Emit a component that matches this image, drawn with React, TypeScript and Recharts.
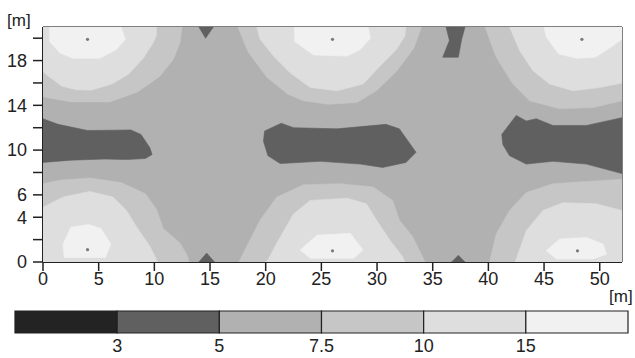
import React from 'react';
import { ScatterChart, Scatter, XAxis, YAxis, ReferenceLine, BarChart, Bar } from 'recharts';

// ---- illuminance classes (lx) ----
const levelLabels = ['3', '5', '7.5', '10', '15'];
const levelColors = ['#232323', '#606060', '#b1b1b1', '#c6c6c6', '#dedede', '#f1f1f1'];

// ---- axes ----
const xTicks = [0, 5, 10, 15, 20, 25, 30, 35, 40, 45, 50];
const yTicks = [0, 2, 4, 6, 8, 10, 12, 14, 16, 18, 20];
const yLabelled = [0, 4, 6, 10, 14, 18];

// ---- contour region outlines [x m, y m] ----
const room: [number, number][] = [[0, 0], [52, 0], [52, 21], [0, 21]];

const topLeft75: [number, number][] = [[0, 21], [12.5, 21], [12.3, 19.6], [11.7, 18.1], [10.5, 16.6], [8.5, 15.2], [6.0, 14.3], [2.6, 14.3], [0.3, 14.7], [0, 14.8]];
const topLeft10: [number, number][] = [[0, 21], [10.2, 21], [10.2, 20.3], [9.9, 19.6], [9.0, 18.2], [7.7, 16.8], [6.2, 15.9], [4.3, 15.35], [3.0, 15.4], [1.7, 15.7], [0.5, 16.6], [0, 17.0]];
const topLeft15: [number, number][] = [[0.6, 21], [7.0, 21], [7.4, 19.9], [6.6, 19.0], [5.1, 18.2], [2.7, 18.2], [1.5, 18.7], [0.6, 19.7]];

const botLeft75: [number, number][] = [[0, 0], [0, 7.0], [1.5, 7.3], [4.2, 7.5], [7.0, 7.1], [9.2, 6.1], [10.2, 4.7], [10.8, 3.0], [12.3, 1.7], [13.0, 0.5], [13.1, 0]];
const botLeft10: [number, number][] = [[0, 0], [0, 4.9], [1.8, 5.8], [4.2, 6.3], [6.3, 5.8], [7.5, 4.6], [8.4, 3.15], [9.6, 1.4], [10.2, 0.2], [10.3, 0]];
const botLeft15: [number, number][] = [[1.9, 0.4], [1.8, 1.6], [2.5, 3.1], [4.1, 3.35], [5.2, 3.0], [6.1, 1.6], [5.6, 0.4]];

const topMid75: [number, number][] = [[17.5, 21], [18.4, 18.8], [20.1, 16.5], [22.0, 15.0], [23.4, 14.4], [25.6, 14.1], [28.2, 14.25], [30.0, 15.35], [31.8, 17.1], [33.3, 19.1], [34.0, 21]];
const topMid10: [number, number][] = [[19.2, 21], [19.5, 19.9], [20.7, 18.4], [22.2, 16.9], [24.0, 15.6], [26.4, 15.3], [28.75, 15.9], [30.25, 17.5], [31.75, 19.0], [32.5, 20.2], [32.6, 21]];
const topMid15: [number, number][] = [[22.6, 21], [22.6, 19.7], [24.3, 18.5], [27.3, 18.4], [28.5, 19.0], [29.4, 20.0], [29.2, 21]];

const botMid75: [number, number][] = [[17.6, 0], [18.3, 1.4], [19.5, 3.75], [21.0, 5.8], [23.4, 6.9], [26.7, 7.0], [29.65, 6.7], [31.4, 5.5], [32.0, 3.75], [33.2, 2.26], [34.1, 0.47], [34.3, 0]];
const botMid10: [number, number][] = [[20.0, 0], [20.2, 0.2], [21.0, 1.7], [22.5, 4.3], [24.0, 5.5], [27.3, 5.7], [29.05, 5.2], [29.95, 3.75], [31.15, 1.96], [32.3, 0.47], [32.5, 0]];
const botMid15: [number, number][] = [[24.0, 0.33], [23.1, 1.07], [24.6, 2.4], [27.6, 2.56], [28.75, 1.07], [27.9, 0.33]];

const topRight75: [number, number][] = [[39.7, 21], [40.7, 18.3], [42.2, 15.9], [43.7, 14.4], [46.4, 13.7], [49.4, 13.8], [52, 14.4], [52, 21]];
const topRight10: [number, number][] = [[41.9, 21], [42.8, 18.9], [44.0, 17.1], [45.5, 15.9], [47.6, 15.3], [50.0, 15.6], [52, 16.0], [52, 21]];
const topRight15: [number, number][] = [[45.0, 21], [45.2, 20.1], [46.3, 18.6], [47.9, 18.2], [49.6, 18.3], [51.0, 19.2], [52, 19.9], [52, 21]];

const botRight75: [number, number][] = [[40.1, 0], [40.7, 2.5], [41.9, 4.6], [43.4, 6.2], [45.8, 7.0], [48.8, 7.2], [52, 7.4], [52, 0]];
const botRight10: [number, number][] = [[42.4, 0], [42.5, 0.27], [43.4, 2.8], [44.9, 4.6], [46.7, 5.3], [49.7, 5.2], [52, 4.6], [52, 0]];
const botRight15: [number, number][] = [[46.1, 0.27], [45.2, 1.0], [46.4, 2.05], [48.8, 2.2], [50.3, 1.6], [50.6, 0.7], [49.4, 0.27]];

const bandLeft: [number, number][] = [[0, 12.8], [1.35, 12.3], [4.0, 11.75], [7.9, 11.8], [8.8, 11.4], [9.6, 10.2], [9.8, 9.6], [9.2, 9.25], [7.5, 9.15], [5.5, 9.2], [2.5, 9.1], [0, 8.9]];
const bandMid: [number, number][] = [[19.9, 11.7], [21.4, 12.4], [22.5, 12.0], [26.4, 11.9], [30.8, 12.3], [32.0, 11.9], [33.5, 9.8], [32.6, 8.9], [30.5, 8.45], [28.5, 8.75], [24.9, 9.0], [21.3, 8.8], [20.2, 9.5], [19.8, 10.8]];
const bandRight: [number, number][] = [[41.2, 11.4], [42.5, 13.1], [43.4, 12.6], [44.3, 12.8], [45.8, 12.2], [48.8, 12.2], [52, 12.9], [52, 7.9], [48.8, 8.75], [45.8, 9.0], [43.4, 8.75], [41.9, 9.5], [41.3, 10.5]];
const notchTop15: [number, number][] = [[14.0, 21], [15.3, 21], [14.6, 20.0]];
const notchBot15: [number, number][] = [[14.0, 0], [15.4, 0], [14.7, 0.8]];
const notchTop37: [number, number][] = [[36.2, 21], [37.9, 21], [37.6, 19.9], [37.3, 18.3], [35.9, 18.3], [36.5, 19.8]];
const notchBot37: [number, number][] = [[36.7, 0], [37.9, 0], [37.3, 0.6]];

// luminaire positions
const lampX = [4, 4, 26, 26, 48.4, 48];
const lampY = [19.9, 1.1, 19.9, 1.0, 19.9, 1.0];

const regions: { pts: [number, number][]; level: number }[] = [
  { pts: room, level: 2 },
  { pts: topLeft75, level: 3 }, { pts: topLeft10, level: 4 }, { pts: topLeft15, level: 5 },
  { pts: botLeft75, level: 3 }, { pts: botLeft10, level: 4 }, { pts: botLeft15, level: 5 },
  { pts: topMid75, level: 3 }, { pts: topMid10, level: 4 }, { pts: topMid15, level: 5 },
  { pts: botMid75, level: 3 }, { pts: botMid10, level: 4 }, { pts: botMid15, level: 5 },
  { pts: topRight75, level: 3 }, { pts: topRight10, level: 4 }, { pts: topRight15, level: 5 },
  { pts: botRight75, level: 3 }, { pts: botRight10, level: 4 }, { pts: botRight15, level: 5 },
  { pts: bandLeft, level: 1 }, { pts: bandMid, level: 1 }, { pts: bandRight, level: 1 },
  { pts: notchTop15, level: 1 }, { pts: notchBot15, level: 1 }, { pts: notchTop37, level: 1 }, { pts: notchBot37, level: 1 },
];

const lamps = lampX.map((x, i) => ({ x, y: lampY[i] }));
const FONT = 'Liberation Sans, Arial, sans-serif';
const TICK_FONT = 18;

const noShape = () => <g />;
const lampShape = (p: any) => <circle cx={p.cx} cy={p.cy} r={1.6} fill="#7a7a7a" />;
const polygon = (color: string) => (props: any) => {
  const pts = props.points || [];
  const d = pts.map((p: any, i: number) => `${i ? 'L' : 'M'}${p.x},${p.y}`).join('') + 'Z';
  return <path d={d} fill={color} stroke={color} strokeWidth={0.6} strokeLinejoin="round" />;
};

const legendRow = [levelColors.reduce((acc: any, _c, i) => { acc['s' + i] = 1; return acc; }, { name: 'scale' })];

export default function App() {
  return (
    <div style={{ position: 'absolute', left: 0, top: 0, width: 635, height: 358, background: '#fff' }}>
      <div style={{ position: 'absolute', left: 0, top: 0 }}>
        <ScatterChart width={635} height={305} margin={{ top: 27, right: 13, left: 0, bottom: 0 }}>
          <XAxis
            type="number" dataKey="x" domain={[0, 52]} ticks={xTicks} interval={0} allowDataOverflow
            height={43} tickSize={9} tickMargin={1}
            axisLine={{ stroke: '#222', strokeWidth: 2 }} tickLine={{ stroke: '#222', strokeWidth: 1.5 }}
            tick={{ fill: '#222', fontSize: TICK_FONT, fontFamily: FONT }}
            label={{ content: () => <text x={609} y={302} fontSize={17} fontFamily={FONT} fill="#222222">[m]</text> }}
          />
          <YAxis
            type="number" dataKey="y" domain={[0, 21]} ticks={yTicks} interval={0} allowDataOverflow
            width={43} tickSize={10} tickMargin={6}
            tickFormatter={(v: number) => (yLabelled.includes(v) ? String(v) : '')}
            axisLine={{ stroke: '#222', strokeWidth: 2 }} tickLine={{ stroke: '#222', strokeWidth: 1.5 }}
            tick={{ fill: '#222', fontSize: TICK_FONT, fontFamily: FONT }}
            label={{ content: () => <text x={7} y={26} fontSize={17} fontFamily={FONT} fill="#222222">[m]</text> }}
          />
          {regions.map((r, i) => (
            <Scatter
              key={i}
              data={r.pts.map(([x, y]) => ({ x, y }))}
              fill={levelColors[r.level]}
              line={polygon(levelColors[r.level])}
              lineType="joint"
              shape={noShape}
              isAnimationActive={false}
              legendType="none"
            />
          ))}
          <Scatter data={lamps} shape={lampShape} isAnimationActive={false} legendType="none" />
          <ReferenceLine y={21} stroke="#555" strokeWidth={1.5} />
          <ReferenceLine x={52} stroke="#555" strokeWidth={1.5} />
        </ScatterChart>
      </div>
      <div style={{ position: 'absolute', left: 0, top: 300 }}>
        <BarChart width={635} height={58} layout="vertical" data={legendRow}
          margin={{ top: 11, right: 7, left: 15, bottom: 0 }} barCategoryGap={0}>
          <XAxis type="number" domain={[0, 6]} ticks={[1, 2, 3, 4, 5]} interval={0} height={25}
            axisLine={false} tickLine={false} tickSize={0} tickMargin={6}
            tickFormatter={(v: number) => levelLabels[v - 1] ?? ''}
            tick={{ fill: '#222', fontSize: TICK_FONT, fontFamily: FONT }} />
          <YAxis type="category" dataKey="name" hide />
          {levelColors.map((c, i) => (
            <Bar key={i} dataKey={'s' + i} stackId="a" fill={c} stroke="#222" strokeWidth={1.2} isAnimationActive={false} />
          ))}
        </BarChart>
      </div>
    </div>
  );
}
